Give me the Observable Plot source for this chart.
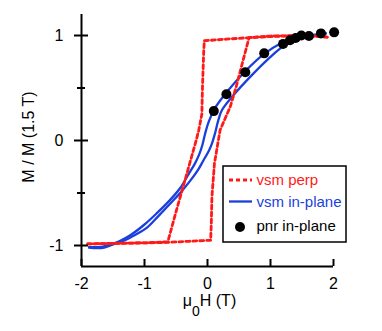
<!DOCTYPE html>
<html>
<head>
<meta charset="utf-8">
<script src="https://cdn.jsdelivr.net/npm/d3@7"></script>
<script src="https://cdn.jsdelivr.net/npm/@observablehq/plot@0.6"></script>
<style>
  html, body { margin: 0; padding: 0; background: #fff; }
  #wrap { position: relative; width: 382px; height: 331px; font-family: "Liberation Sans", Arial, sans-serif; }
  #legend { position: absolute; left: 0; top: 0; pointer-events: none; }
</style>
</head>
<body>
<div id="wrap"></div>
<script>
// ---- data ----
const perpDownH = [1.9, 1.5, 1.0, 0.66, 0.3, -0.05, -0.06, -0.08, -0.09, -0.14, -0.18, -0.33, -0.5, -0.63, -1.0, -1.5, -1.9];
const perpDownM = [0.985, 1.0, 0.995, 0.98, 0.965, 0.95, 0.85, 0.5, 0.25, 0.095, 0.0, -0.32, -0.68, -0.965, -0.975, -0.98, -0.985];
const perpUpH = [-1.9, -1.0, -0.63, -0.3, 0.05, 0.06, 0.07, 0.11, 0.2, 0.36, 0.45, 0.55, 0.66, 1.0, 1.5, 1.9];
const perpUpM = [-0.985, -0.975, -0.97, -0.96, -0.95, -0.8, -0.54, -0.22, 0.1, 0.32, 0.5, 0.73, 0.98, 0.99, 1.0, 0.985];

const ipDownH = [1.88, 1.6, 1.42, 1.18, 0.89, 0.6, 0.31, 0.12, 0.02, -0.04, -0.08, -0.13, -0.2, -0.3, -0.43, -0.6, -0.8, -1.0, -1.22, -1.4, -1.59, -1.75, -1.88];
const ipDownM = [1.02, 1.0, 0.99, 0.93, 0.82, 0.66, 0.465, 0.31, 0.18, 0.06, -0.04, -0.13, -0.22, -0.32, -0.45, -0.57, -0.69, -0.8, -0.9, -0.96, -1.0, -1.015, -1.015];
const ipUpH = [-1.88, -1.75, -1.64, -1.5, -1.33, -1.15, -0.96, -0.78, -0.59, -0.42, -0.27, -0.15, -0.065, 0.02, 0.07, 0.12, 0.17, 0.23, 0.41, 0.7, 0.97, 1.2, 1.47, 1.7, 1.88];
const ipUpM = [-1.02, -1.025, -1.02, -0.99, -0.955, -0.9, -0.83, -0.72, -0.6, -0.49, -0.38, -0.28, -0.19, -0.1, -0.03, 0.07, 0.19, 0.29, 0.43, 0.62, 0.78, 0.895, 0.97, 1.0, 1.02];

const pnrH = [0.1, 0.3, 0.6, 0.9, 1.2, 1.31, 1.4, 1.49, 1.61, 1.8, 2.01];
const pnrM = [0.28, 0.44, 0.65, 0.83, 0.92, 0.955, 0.977, 1.0, 0.995, 1.02, 1.03];

const xDomain = [-2, 2];
const yDomain = [-1.2, 1.2];
const xTicks = [-2, -1, 0, 1, 2];
const yTicks = [-1, 0, 1];
const yMinorTicks = [-0.5, 0.5];

const legendLabels = ["vsm perp", "vsm in-plane", "pnr in-plane"];
const legendColors = ["#ff1a1a", "#1a3fdc", "#000000"];

// ---- build tables ----
const zip = (hs, ms) => hs.map((h, i) => ({H: h, M: ms[i]}));
const perpDown = zip(perpDownH, perpDownM);
const perpUp = zip(perpUpH, perpUpM);
const ipDown = zip(ipDownH, ipDownM);
const ipUp = zip(ipUpH, ipUpM);
const pnr = zip(pnrH, pnrM);

const RED = legendColors[0], BLUE = legendColors[1];
const font = "Liberation Sans, Arial, sans-serif";
const DASH = "4,3";

const plot = Plot.plot({
  width: 382,
  height: 331,
  marginLeft: 81,
  marginRight: 49,
  marginTop: 14,
  marginBottom: 65,
  style: {fontFamily: font, fontSize: "16px", color: "#000", background: "transparent"},
  x: {domain: xDomain},
  y: {domain: yDomain},
  marks: [
    Plot.line(ipDown, {x: "H", y: "M", stroke: BLUE, strokeWidth: 2.3, curve: "catmull-rom"}),
    Plot.line(ipUp, {x: "H", y: "M", stroke: BLUE, strokeWidth: 2.3, curve: "catmull-rom"}),
    Plot.line(perpDown, {x: "H", y: "M", stroke: RED, strokeWidth: 2.8, strokeDasharray: DASH}),
    Plot.line(perpUp, {x: "H", y: "M", stroke: RED, strokeWidth: 2.8, strokeDasharray: DASH}),
    Plot.dot(pnr, {x: "H", y: "M", r: 5, fill: "#000", stroke: "none"}),
    // axis lines
    Plot.ruleX(xDomain.slice(0, 1), {stroke: "#000", strokeWidth: 2}),
    Plot.ruleY(yDomain.slice(0, 1), {stroke: "#000", strokeWidth: 2}),
    // y ticks crossing the axis
    Plot.axisY({ticks: yTicks, tickSize: 14, dx: 7, text: null, strokeWidth: 2, label: null}),
    Plot.axisY({ticks: yMinorTicks, tickSize: 8, dx: 4, text: null, strokeWidth: 2, label: null}),
    Plot.axisY({ticks: yTicks, tickSize: 0, tickPadding: 18, tickFormat: d => d < 0 ? "-" + Math.abs(d) : String(d), fontSize: 16, label: null}),
    // x ticks inward
    Plot.axisX({ticks: xTicks, tickSize: 7, dy: -7, text: null, strokeWidth: 2, label: null}),
    Plot.axisX({ticks: xTicks, tickSize: 0, tickPadding: 11, tickFormat: d => d < 0 ? "-" + Math.abs(d) : String(d), fontSize: 16, label: null})
  ]
});

const wrap = document.getElementById("wrap");
wrap.appendChild(plot);

// axis titles
const svg = d3.select(plot);
const xl = svg.append("text")
  .attr("x", 209.5).attr("y", 306)
  .attr("text-anchor", "middle")
  .attr("font-family", font).attr("font-size", 16).attr("fill", "#000");
xl.append("tspan").text("μ");
xl.append("tspan").attr("dy", 10).attr("font-size", 14).text("0");
xl.append("tspan").attr("dy", -10).text("H (T)");

svg.append("text")
  .attr("transform", "translate(34,137) rotate(-90)")
  .attr("text-anchor", "middle")
  .attr("font-family", font).attr("font-size", 16).attr("fill", "#000")
  .text("M / M (1.5 T)");

// legend
const leg = d3.select(wrap).append("svg").attr("id", "legend").attr("width", 382).attr("height", 331);
leg.append("rect").attr("x", 223).attr("y", 166).attr("width", 123).attr("height", 76)
  .attr("fill", "#fff").attr("stroke", "#000").attr("stroke-width", 1.5);
const rowsY = [180, 201.5, 226];
leg.append("line").attr("x1", 229).attr("x2", 252).attr("y1", rowsY[0]).attr("y2", rowsY[0])
  .attr("stroke", RED).attr("stroke-width", 2.8).attr("stroke-dasharray", DASH);
leg.append("line").attr("x1", 229).attr("x2", 252).attr("y1", rowsY[1]).attr("y2", rowsY[1])
  .attr("stroke", BLUE).attr("stroke-width", 2.3);
leg.append("circle").attr("cx", 240).attr("cy", rowsY[2] + 1).attr("r", 5).attr("fill", "#000");
legendLabels.forEach((t, i) => {
  leg.append("text").attr("x", 256.5).attr("y", rowsY[i]).attr("dy", "0.35em")
    .attr("font-family", font).attr("font-size", 15).attr("fill", legendColors[i]).text(t);
});
</script>
</body>
</html>
